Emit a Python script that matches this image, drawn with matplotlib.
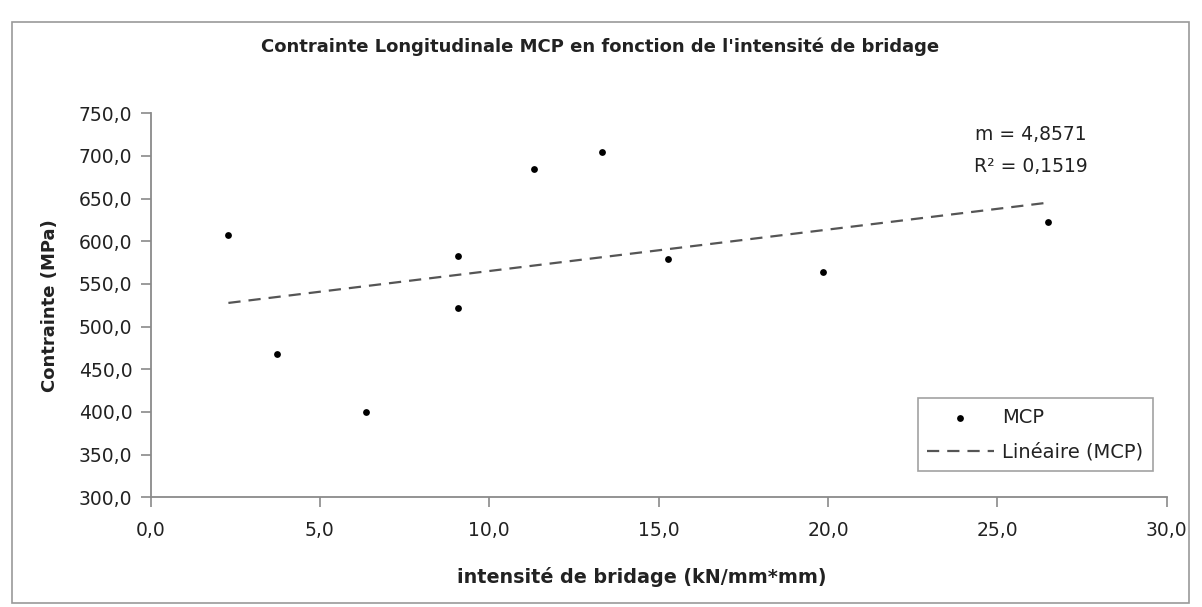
import matplotlib
matplotlib.use("Agg")
import matplotlib.pyplot as plt
import matplotlib.patches as mpatches
from matplotlib.ticker import FuncFormatter
import numpy as np

# Measurements: restraint intensity vs. longitudinal stress (MCP)
intensite = [2.30, 3.74, 6.36, 9.09, 9.09, 11.32, 13.34, 15.27, 19.86, 26.51]
contrainte = [607.0, 467.6, 399.6, 582.8, 521.5, 684.7, 704.3, 578.9, 564.4, 623.0]

# Linear trend statistics
pente = 4.8571
r_carre = 0.1519

x_ticks = [0.0, 5.0, 10.0, 15.0, 20.0, 25.0, 30.0]
y_ticks = [300.0, 350.0, 400.0, 450.0, 500.0, 550.0, 600.0, 650.0, 700.0, 750.0]

W, H = 1202, 607
fig = plt.figure(figsize=(W / 100, H / 100), dpi=100)
fig.patch.set_facecolor("white")

# chart-area border
fig.patches.append(mpatches.Rectangle((12 / W, 1 - 603 / H), (1189 - 12) / W, (603 - 22) / H,
                                      transform=fig.transFigure, fill=False,
                                      edgecolor="#9a9a9a", linewidth=1.2))

ax = fig.add_axes([150.5 / W, 1 - 497.3 / H, (1166.7 - 150.5) / W, (497.3 - 113.3) / H])

x = np.asarray(intensite)
y = np.asarray(contrainte)

ax.scatter(x, y, s=24, color="black", marker="o", linewidths=0, zorder=3, label="MCP")

# trend line through the data centroid with the reported slope
x_line = np.array([x.min(), x.max()])
y_line = y.mean() + pente * (x_line - x.mean())
ax.plot(x_line, y_line, color="#555555", lw=1.6, linestyle=(0, (5.5, 3.6)),
        label="Linéaire (MCP)", zorder=2)

ax.set_xlim(x_ticks[0], x_ticks[-1])
ax.set_ylim(y_ticks[0], y_ticks[-1])
ax.set_xticks(x_ticks)
ax.set_yticks(y_ticks)
fmt = FuncFormatter(lambda v, p: f"{v:.1f}".replace(".", ","))
ax.xaxis.set_major_formatter(fmt)
ax.yaxis.set_major_formatter(fmt)

for side in ("top", "right"):
    ax.spines[side].set_visible(False)
for side in ("left", "bottom"):
    ax.spines[side].set_color("#8a8a8a")
    ax.spines[side].set_linewidth(1.3)

ax.tick_params(axis="both", direction="out", length=7, width=1.2, color="#8a8a8a",
               labelsize=13.5, labelcolor="#222222")
ax.tick_params(axis="y", pad=6)
ax.tick_params(axis="x", pad=10)

fig.text(600 / W, 1 - 47 / H, "Contrainte Longitudinale MCP en fonction de l'intensité de bridage",
         ha="center", va="center", fontsize=13, fontweight="bold", color="#222222")
fig.text(50 / W, 1 - 306 / H, "Contrainte (MPa)", rotation=90, ha="center", va="center",
         fontsize=13, fontweight="bold", color="#222222")
fig.text(642 / W, 1 - 577 / H, "intensité de bridage (kN/mm*mm)", ha="center", va="center",
         fontsize=13.8, fontweight="bold", color="#222222")

ax.text(1031 / W, 1 - 135 / H, f"m = {pente:.4f}".replace(".", ","), transform=fig.transFigure,
        ha="center", va="center", fontsize=13.5, color="#222222")
ax.text(1031 / W, 1 - 167 / H, f"R² = {r_carre:.4f}".replace(".", ","), transform=fig.transFigure,
        ha="center", va="center", fontsize=13.5, color="#222222")

leg = ax.legend(loc="upper left", bbox_to_anchor=(917.7 / W, 1 - 398.3 / H),
                bbox_transform=fig.transFigure, borderaxespad=0, fontsize=14,
                handlelength=3.4, handletextpad=0.45, labelspacing=0.8,
                borderpad=0.5, frameon=True, fancybox=False, scatterpoints=1)
leg.get_frame().set_edgecolor("#8a8a8a")
leg.get_frame().set_linewidth(1.2)
for t in leg.get_texts():
    t.set_color("#222222")

fig.savefig("out.png", dpi=100, facecolor="white")
